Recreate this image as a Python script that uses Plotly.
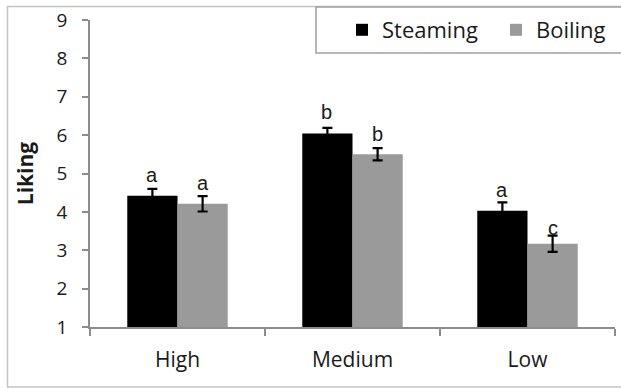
import plotly.graph_objects as go

categories = ["High", "Medium", "Low"]
steaming = [4.42, 6.04, 4.03]
steaming_err = [0.18, 0.15, 0.22]
boiling = [4.21, 5.50, 3.17]
boiling_err = [0.20, 0.16, 0.21]
steaming_letters = ["a", "b", "a"]
boiling_letters = ["a", "b", "c"]
y_ticks = [1, 2, 3, 4, 5, 6, 7, 8, 9]

W, H = 621, 388
ML, MR, MT, MB = 90, 6, 20, 61
PW, PH = W - ML - MR, H - MT - MB


def px(x):
    return (x - ML) / PW


def py(y):
    return (H - MB - y) / PH


AXIS = "#8c8c8c"
TXT = "#1a1a1a"
FONT = "Open Sans"

fig = go.Figure()
fig.add_trace(go.Bar(
    name="Steaming", x=categories, y=steaming, marker=dict(color="#000000", line_width=0),
    error_y=dict(type="data", array=steaming_err, color="#000000", thickness=2.2, width=5),
    legend="legend",
))
fig.add_trace(go.Bar(
    name="Boiling", x=categories, y=boiling, marker=dict(color="#9a9a9a", line_width=0),
    error_y=dict(type="data", array=boiling_err, color="#000000", thickness=2.2, width=5),
    legend="legend2",
))

gaps_s = [5, 7, 3]
gaps_b = [4, 5, -1]
for i, c in enumerate(categories):
    fig.add_annotation(x=c, y=steaming[i] + steaming_err[i], text=steaming_letters[i],
                       xshift=-26, yshift=gaps_s[i] - 4, yanchor="bottom", showarrow=False,
                       font=dict(family="Liberation Sans", size=20, color=TXT))
    fig.add_annotation(x=c, y=boiling[i] + boiling_err[i], text=boiling_letters[i],
                       xshift=25, yshift=gaps_b[i] - 4, yanchor="bottom", showarrow=False,
                       font=dict(family="Liberation Sans", size=20, color=TXT))

# outer frame and legend box
fig.add_shape(type="rect", xref="paper", yref="paper",
              x0=px(7.5), y0=py(387), x1=px(660), y1=py(6.5),
              line=dict(color="#c4c4c4", width=1.5), layer="below")
fig.add_shape(type="rect", xref="paper", yref="paper",
              x0=px(316), y0=py(53), x1=px(660), y1=py(7),
              line=dict(color="#a0a0a0", width=1.5), fillcolor="white", layer="below")

leg_common = dict(orientation="h", yanchor="middle", xanchor="left",
                  font=dict(family=FONT, size=22, color=TXT), bgcolor="rgba(0,0,0,0)",
                  itemclick=False, itemdoubleclick=False)

fig.update_layout(
    width=W, height=H,
    margin=dict(l=ML, r=MR, t=MT, b=MB, pad=0),
    paper_bgcolor="white", plot_bgcolor="white",
    barmode="group", bargap=0.426, bargroupgap=0,
    font=dict(family=FONT, color=TXT),
    showlegend=True,
    legend=dict(x=px(342), y=py(30), **leg_common),
    legend2=dict(x=px(496), y=py(30), **leg_common),
    xaxis=dict(showline=True, linecolor=AXIS, linewidth=1.5, ticks="outside",
               tickson="boundaries", ticklen=7, tickcolor=AXIS, tickwidth=1.5,
               tickfont=dict(family=FONT, size=21, color=TXT), ticklabelstandoff=13,
               showgrid=False, zeroline=False),
    yaxis=dict(range=[1, 9], tickvals=y_ticks, showline=True, linecolor=AXIS, linewidth=1.5,
               ticks="outside", ticklen=6, tickcolor=AXIS, tickwidth=1.5,
               tickfont=dict(family=FONT, size=19, color=TXT), ticklabelstandoff=11,
               showgrid=False, zeroline=False,
               title=dict(text="<b>Liking</b>", font=dict(family=FONT, size=21, color=TXT), standoff=17)),
)

fig.write_html("out.html", config={"displayModeBar": False},
               post_script="document.body.style.margin='0';")
